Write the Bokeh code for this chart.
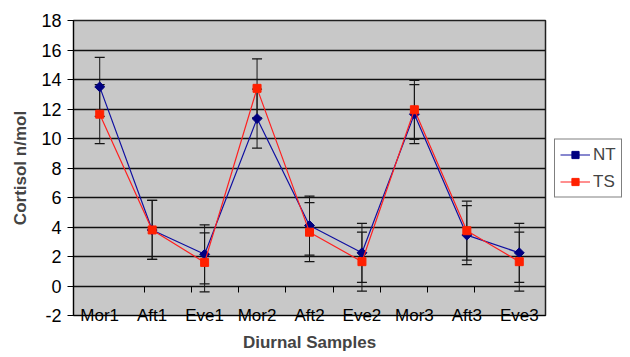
from bokeh.plotting import figure
from bokeh.models import (ColumnDataSource, Whisker, TeeHead, Legend, LegendItem,
                          CategoricalAxis, Range1d, FixedTicker, FactorRange)
from bokeh.embed import file_html
from bokeh.resources import INLINE

categories = ["Mor1", "Aft1", "Eve1", "Mor2", "Aft2", "Eve2", "Mor3", "Aft3", "Eve3"]
nt_mean = [13.5, 3.8, 2.15, 11.35, 4.1, 2.25, 11.65, 3.45, 2.25]
ts_mean = [11.65, 3.8, 1.6, 13.4, 3.65, 1.65, 11.95, 3.75, 1.65]
nt_err = [2.0, 2.0, 2.0, 2.0, 2.0, 2.0, 2.0, 2.0, 2.0]
ts_err = [2.0, 2.0, 2.0, 2.0, 2.0, 2.0, 2.0, 2.0, 2.0]
y_ticks = [-2, 0, 2, 4, 6, 8, 10, 12, 14, 16, 18]
y_tick_labels = ["-2", "0", "2", "4", "6", "8", "10", "12", "14", "16", "18"]

FONT = "Liberation Sans"

p = figure(x_range=categories, y_range=Range1d(-2, 18),
           frame_width=472, frame_height=295,
           output_backend="svg", toolbar_location=None,
           min_border_left=73, min_border_right=85, min_border_top=20, min_border_bottom=42,
           background_fill_color="#C8C8C8", border_fill_color="white")
p.outline_line_color = "#202020"
p.outline_line_width = 1.5

# grid
p.xgrid.visible = False
p.ygrid.ticker = FixedTicker(ticks=y_ticks)
p.ygrid.grid_line_color = "#101010"
p.ygrid.grid_line_width = 1.3

# y axis
p.yaxis.ticker = FixedTicker(ticks=y_ticks)
p.yaxis.major_label_overrides = dict(zip(y_ticks, y_tick_labels))
p.yaxis.axis_label = "Cortisol n/mol"
p.yaxis.axis_label_text_font = FONT
p.yaxis.axis_label_text_font_style = "bold"
p.yaxis.axis_label_text_font_size = "17px"
p.yaxis.axis_label_standoff = 8
p.yaxis.major_label_text_font = FONT
p.yaxis.major_label_text_font_size = "18px"
p.yaxis.major_label_text_color = "black"
p.yaxis.major_label_standoff = 6
p.yaxis.major_tick_out = 6
p.yaxis.major_tick_in = 0
p.yaxis.minor_tick_out = 0
p.yaxis.axis_line_color = "black"
p.yaxis.major_tick_line_color = "black"

# x axis (category labels)
p.xaxis.axis_label = "Diurnal Samples"
p.xaxis.axis_label_text_font = FONT
p.xaxis.axis_label_text_font_style = "bold"
p.xaxis.axis_label_text_font_size = "17px"
p.xaxis.axis_label_standoff = 5
p.xaxis.major_label_text_font = FONT
p.xaxis.major_label_text_font_size = "17px"
p.xaxis.major_label_text_color = "black"
p.xaxis.major_label_standoff = -10
p.xaxis.major_tick_out = 0
p.xaxis.major_tick_in = 0
p.xaxis.axis_line_color = "black"

# category boundary tick marks on the zero line (Excel style)
boundaries = [a + "|" + b for a, b in zip(categories[:-1], categories[1:])]
p.extra_x_ranges = {"bnd": FactorRange(factors=boundaries, range_padding=1,
                                       range_padding_units="absolute")}
bax = CategoricalAxis(x_range_name="bnd", fixed_location=0,
                      major_label_text_font_size="0px", major_label_text_alpha=0,
                      major_label_standoff=0, axis_line_color=None,
                      major_tick_in=6, major_tick_out=0,
                      major_tick_line_color="black")
p.add_layout(bax, "above")

src = ColumnDataSource(dict(
    x=categories, nt=nt_mean, ts=ts_mean,
    nt_lo=[m - e for m, e in zip(nt_mean, nt_err)],
    nt_hi=[m + e for m, e in zip(nt_mean, nt_err)],
    ts_lo=[m - e for m, e in zip(ts_mean, ts_err)],
    ts_hi=[m + e for m, e in zip(ts_mean, ts_err)],
))

for lo, hi in (("nt_lo", "nt_hi"), ("ts_lo", "ts_hi")):
    w = Whisker(base="x", lower=lo, upper=hi, dimension="height", source=src,
                line_color="#151515", line_width=1,
                upper_head=TeeHead(size=10, line_color="#151515", line_width=1.3),
                lower_head=TeeHead(size=10, line_color="#151515", line_width=1.3))
    p.add_layout(w)

l_nt = p.line("x", "nt", source=src, line_color="#1010A0", line_width=1.2)
s_nt = p.scatter("x", "nt", source=src, marker="square", angle=0.785, size=7,
                 fill_color="#000080", line_color="#000080")
l_ts = p.line("x", "ts", source=src, line_color="#FF2020", line_width=1.2)
s_ts = p.scatter("x", "ts", source=src, marker="square", size=8,
                 fill_color="#FF2000", line_color="#FF2000")

legend = Legend(items=[LegendItem(label="NT", renderers=[l_nt, s_nt]),
                       LegendItem(label="TS", renderers=[l_ts, s_ts])],
                location="center_left", orientation="vertical",
                label_text_font=FONT, label_text_font_size="17px",
                glyph_width=30, glyph_height=18, label_height=18, spacing=7,
                padding=5, label_standoff=3, margin=9,
                border_line_color="black", border_line_width=1,
                background_fill_color="white", background_fill_alpha=1)
p.add_layout(legend, "right")

open("out.html", "w").write(file_html(p, INLINE))
